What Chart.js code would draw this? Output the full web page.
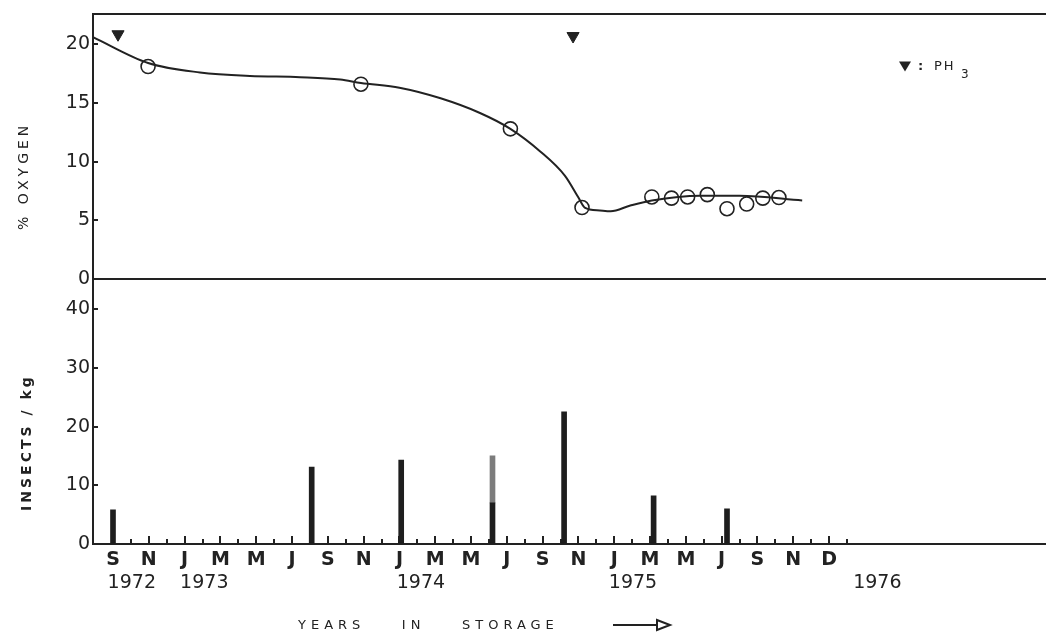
<!DOCTYPE html>
<html>
<head>
<meta charset="utf-8">
<script src="https://cdn.jsdelivr.net/npm/chart.js@4/dist/chart.umd.min.js"></script>
<style>
html,body{margin:0;padding:0;background:#fff;}
#c{display:block;}
</style>
</head>
<body>
<canvas id="c" width="1046" height="636"></canvas>
<script>
// Time axis: months counted from September 1972 (= 0)
const monthLabelPos = [0, 2, 4, 6, 8, 10, 12, 14, 16, 18, 20, 22, 24, 26, 28, 30, 32, 34, 36, 38, 40];
const monthLabels   = ['S','N','J','M','M','J','S','N','J','M','M','J','S','N','J','M','M','J','S','N','D'];
const tickMonths    = [0,1,2,3,4,5,6,7,8,9,10,11,12,13,14,15,16,17,18,19,20,21,22,23,24,25,26,27,28,29,30,31,32,33,34,35,36,37,38,39,40,41];
const yearLabelPos  = [1.05, 5.1, 17.2, 29.05, 42.7];
const yearLabels    = ['1972', '1973', '1974', '1975', '1976'];

// % oxygen measurements (open circles)
const oxygenMonths = [1.96, 13.85, 22.2, 26.2, 30.1, 31.2, 32.1, 33.2, 34.3, 35.4, 36.3, 37.2];
const oxygenValues = [18.1, 16.6, 12.8, 6.1, 7.0, 6.9, 7.0, 7.2, 6.0, 6.4, 6.9, 6.95];

// fitted oxygen curve
const curveMonths = [-1.117, 1.96, 4.86, 7.65, 10.45, 12.7, 13.85, 16.0, 18.3, 20.5, 22.2, 23.85, 25.25, 26.0, 26.35, 27.2, 27.8, 28.9, 30.1, 32.8, 35.0, 38.5];
const curveValues = [20.6, 18.4, 17.6, 17.3, 17.2, 17.0, 16.7, 16.3, 15.4, 14.15, 12.8, 10.9, 8.8, 6.95, 6.1, 5.85, 5.78, 6.27, 6.7, 7.1, 7.1, 6.7];

// PH3 fumigation markers
const ph3Months = [0.28, 25.7];
const ph3Values = [20.85, 20.7];

// insects / kg
const insectMonths = [0, 11.1, 16.1, 21.2, 25.2, 30.2, 34.3];
const insectValues = [5.8, 13.1, 14.3, 7.0, 22.5, 8.2, 6.0];
const insectUpperMonths = [21.2];
const insectUpperValues = [8.0];

const oxygenTicks = [0, 5, 10, 15, 20];
const insectTicks = [0, 10, 20, 30, 40];

const INK = '#222';
const FONT = 'DejaVu Sans';
Chart.defaults.font.family = FONT;
Chart.defaults.color = INK;

const pts = (xs, ys) => xs.map((x, i) => ({x: x, y: ys[i]}));

const decor = {
  id: 'decor',
  beforeDatasetsDraw(chart) {
    const {ctx, scales} = chart;
    const x = scales.x, yO = scales.yO, yI = scales.yI;
    ctx.save();
    ctx.strokeStyle = INK;
    ctx.lineWidth = 2;
    const base = yI.getPixelForValue(0);
    tickMonths.forEach(m => {
      const px = Math.round(x.getPixelForValue(m));
      const len = (m % 2 === 0) ? 8 : 5;
      ctx.beginPath();
      ctx.moveTo(px, base);
      ctx.lineTo(px, base - len);
      ctx.stroke();
    });
    [[yO, oxygenTicks], [yI, insectTicks]].forEach(([s, arr]) => {
      arr.forEach(v => {
        const py = Math.round(s.getPixelForValue(v));
        ctx.beginPath();
        ctx.moveTo(s.right, py);
        ctx.lineTo(s.right + 5, py);
        ctx.stroke();
      });
    });
    ctx.restore();
  },
  afterDraw(chart) {
    const {ctx, chartArea, scales} = chart;
    const yO = scales.yO, yI = scales.yI;
    ctx.save();
    ctx.fillStyle = INK;
    ctx.textAlign = 'center';
    ctx.textBaseline = 'middle';
    // y-axis titles
    ctx.font = '14px "' + FONT + '"';
    ctx.letterSpacing = '4px';
    ctx.save();
    ctx.translate(24, (yO.top + yO.bottom) / 2 + 29);
    ctx.rotate(-Math.PI / 2);
    ctx.fillText('% OXYGEN', 0, 0);
    ctx.restore();
    ctx.letterSpacing = '3px';
    ctx.save();
    ctx.translate(27, (yI.top + yI.bottom) / 2 + 31);
    ctx.rotate(-Math.PI / 2);
    ctx.font = 'bold 14px "' + FONT + '"';
    ctx.fillText('INSECTS / kg', 0, 0);
    ctx.restore();

    // x title
    ctx.font = '13px "' + FONT + '"';
    ctx.letterSpacing = '5px';
    ctx.textAlign = 'left';
    const tx = chartArea.left + 205;
    const ty = chart.height - 10;
    ctx.fillText('YEARS    IN    STORAGE', tx, ty);
    // arrow
    ctx.letterSpacing = '0px';
    ctx.strokeStyle = INK;
    ctx.lineWidth = 2;
    const ax = chartArea.left + 520;
    ctx.beginPath();
    ctx.moveTo(ax, ty - 1);
    ctx.lineTo(ax + 44, ty - 1);
    ctx.stroke();
    ctx.beginPath();
    ctx.moveTo(ax + 44, ty - 6);
    ctx.lineTo(ax + 57, ty - 1);
    ctx.lineTo(ax + 44, ty + 4);
    ctx.closePath();
    ctx.stroke();

    // legend: PH3 marker
    const lx = chartArea.right - 141;
    const ly = chartArea.top + 52;
    ctx.beginPath();
    ctx.moveTo(lx - 6, ly - 5);
    ctx.lineTo(lx + 6, ly - 5);
    ctx.lineTo(lx, ly + 5);
    ctx.closePath();
    ctx.fill();
    ctx.font = 'bold 13px "' + FONT + '"';
    ctx.letterSpacing = '2px';
    ctx.textAlign = 'left';
    ctx.fillText(':', lx + 13, ly);
    ctx.font = '13px "' + FONT + '"';
    ctx.fillText('PH', lx + 29, ly);
    ctx.font = '12px "' + FONT + '"';
    ctx.fillText('3', lx + 56, ly + 8);
    ctx.restore();
  }
};

new Chart(document.getElementById('c'), {
  type: 'bar',
  data: {
    datasets: [
      {
        type: 'line', label: 'Oxygen curve', data: pts(curveMonths, curveValues),
        xAxisID: 'x', yAxisID: 'yO',
        borderColor: INK, borderWidth: 2, pointRadius: 0, fill: false,
        cubicInterpolationMode: 'monotone'
      },
      {
        type: 'line', label: '% oxygen', data: pts(oxygenMonths, oxygenValues),
        xAxisID: 'x', yAxisID: 'yO', showLine: false,
        pointRadius: 7, pointBorderWidth: 1.6,
        pointBackgroundColor: 'rgba(255,255,255,0)', pointBorderColor: INK
      },
      {
        type: 'line', label: 'PH3', data: pts(ph3Months, ph3Values),
        xAxisID: 'x', yAxisID: 'yO', showLine: false,
        pointStyle: 'triangle', rotation: 180, pointRadius: 7, pointBorderWidth: 1,
        pointBackgroundColor: INK, pointBorderColor: INK
      },
      {
        type: 'bar', label: 'Insects / kg', data: pts(insectMonths, insectValues),
        xAxisID: 'x', yAxisID: 'yI', stack: 'ins',
        backgroundColor: '#1e1e1e', barThickness: 5
      },
      {
        type: 'bar', label: 'Insects / kg (upper part)', data: pts(insectUpperMonths, insectUpperValues),
        xAxisID: 'x', yAxisID: 'yI', stack: 'ins',
        backgroundColor: '#7c7c7c', barThickness: 5
      }
    ]
  },
  options: {
    responsive: false,
    animation: false,
    events: [],
    layout: {autoPadding: false, padding: {top: 13, left: 0, right: 0, bottom: 0}},
    plugins: {legend: {display: false}, tooltip: {enabled: false}},
    scales: {
      x: {
        type: 'linear', position: 'bottom', weight: 0, offset: false,
        min: -1.117, max: 52.12,
        grid: {display: false, drawTicks: false, offset: false},
        border: {display: true, color: INK, width: 2},
        ticks: {
          autoSkip: false, maxRotation: 0, padding: 5,
          font: {size: 19, weight: 'bold'}, color: INK,
          callback: (v, i) => monthLabels[i]
        },
        afterBuildTicks: s => { s.ticks = monthLabelPos.map(v => ({value: v})); },
        afterFit: s => { s.height = 28; }
      },
      xYear: {
        type: 'linear', position: 'bottom', weight: 1, offset: false,
        min: -1.117, max: 52.12,
        grid: {display: false, drawTicks: false, offset: false},
        border: {display: false},
        ticks: {
          autoSkip: false, maxRotation: 0, padding: 0,
          font: {size: 19}, color: INK,
          callback: (v, i) => yearLabels[i]
        },
        afterBuildTicks: s => { s.ticks = yearLabelPos.map(v => ({value: v})); },
        afterFit: s => { s.height = 64; }
      },
      yO: {
        type: 'linear', position: 'left', stack: 'panels', stackWeight: 1, weight: 1,
        min: 0, max: 22.54,
        grid: {
          drawTicks: false, lineWidth: 2,
          color: c => (c.tick && (c.tick.value === 0 || c.tick.value === 22.54)) ? INK : 'rgba(0,0,0,0)'
        },
        border: {display: true, color: INK, width: 2},
        ticks: {
          padding: 3, font: {size: 19}, color: INK,
          callback: v => (v === 22.54 ? '' : v)
        },
        afterBuildTicks: s => { s.ticks = oxygenTicks.concat([22.54]).map(v => ({value: v})); },
        afterFit: s => { s.width = 93; }
      },
      yI: {
        type: 'linear', position: 'left', stack: 'panels', stackWeight: 1, weight: 0,
        min: 0, max: 45.1,
        grid: {display: false, drawTicks: false},
        border: {display: true, color: INK, width: 2},
        ticks: {padding: 3, font: {size: 19}, color: INK},
        afterBuildTicks: s => { s.ticks = insectTicks.map(v => ({value: v})); },
        afterFit: s => { s.width = 93; }
      }
    }
  },
  plugins: [decor]
});
</script>
</body>
</html>
